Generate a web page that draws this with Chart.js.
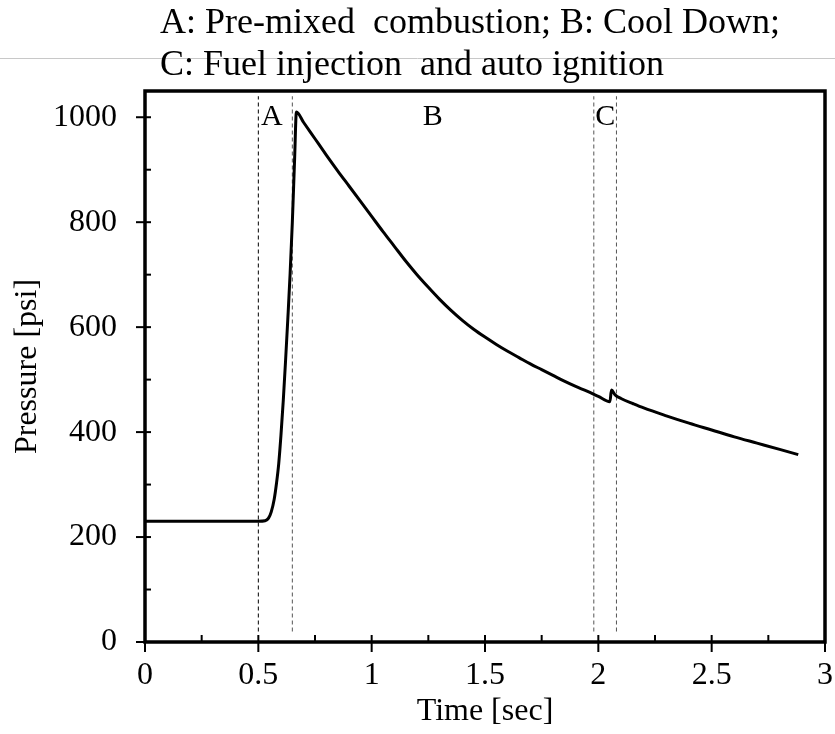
<!DOCTYPE html>
<html>
<head>
<meta charset="utf-8">
<script src="https://cdn.jsdelivr.net/npm/chart.js@4.4.1/dist/chart.umd.min.js"></script>
<style>
  html, body { margin: 0; background: #fff; }
  #wrap { width: 835px; height: 734px; position: relative; }
</style>
</head>
<body>
<div id="wrap"><canvas id="pressureChart"></canvas></div>
<script>
// Pressure trace
const timeSec = [0, 0.1, 0.2, 0.3, 0.4, 0.5, 0.53, 0.545, 0.557, 0.57, 0.58, 0.59, 0.60, 0.61, 0.62,
  0.63, 0.64, 0.65, 0.66, 0.668, 0.70, 0.75, 0.80, 0.85, 0.90, 0.95, 1.00, 1.05, 1.10, 1.15,
  1.20, 1.25, 1.30, 1.35, 1.40, 1.45, 1.50, 1.55, 1.60, 1.65, 1.70, 1.75, 1.80, 1.85, 1.90,
  1.95, 2.00, 2.051, 2.058, 2.074, 2.10, 2.154, 2.20, 2.30, 2.40, 2.50, 2.60, 2.70, 2.80, 2.882];
const pressurePsi = [230, 230, 230, 230, 230, 230, 231, 236, 248, 272, 302, 340, 395, 460, 535,
  615, 700, 800, 920, 1010, 990, 959, 928, 898, 869, 840, 811, 782, 754, 726,
  700, 676, 653, 632, 613, 596, 581, 567, 554, 542, 530, 519, 508, 497, 487,
  478, 468, 458, 480, 471, 464, 454, 446, 431, 417, 404, 391, 379, 367, 357];

// Phase boundaries (dashed lines) and phase labels
const phaseBounds = [0.5, 0.65, 1.98, 2.08];
const phaseColors = ['#000', '#555', '#555', '#555'];
const phaseNames = ['A', 'B', 'C'];
const phaseLabelTime = [0.56, 1.27, 2.03];
const phaseLabelPsi = 1000;
const dashBottomPsi = 20;
const dashTopPsi = 1040;

const titleLines = ['A: Pre-mixed  combustion; B: Cool Down;', 'C: Fuel injection  and auto ignition'];

const xTicks = [0, 0.25, 0.5, 0.75, 1, 1.25, 1.5, 1.75, 2, 2.25, 2.5, 2.75, 3];
const yTicks = [0, 100, 200, 300, 400, 500, 600, 700, 800, 900, 1000];

const serif = 'Liberation Serif';

const frame = {
    id: 'frame',
    beforeDraw(chart) {
        const ctx = chart.ctx;
        ctx.save();
        ctx.strokeStyle = '#c8c8c8';
        ctx.lineWidth = 1;
        ctx.beginPath();
        ctx.moveTo(0, 58.5);
        ctx.lineTo(chart.width, 58.5);
        ctx.stroke();
        ctx.restore();
    },
    afterDraw(chart) {
        const { ctx, chartArea: a, scales: { x, y } } = chart;
        ctx.save();
        ctx.strokeStyle = '#000';
        ctx.lineWidth = 3.5;
        ctx.strokeRect(a.left, a.top, a.right - a.left, a.bottom - a.top);

        // ticks: major ones cross the axis, minor ones point inward
        ctx.lineWidth = 2;
        yTicks.forEach(v => {
            const py = y.getPixelForValue(v);
            const major = v % 200 === 0;
            ctx.beginPath();
            ctx.moveTo(a.left - (major ? 9 : 0), py);
            ctx.lineTo(a.left + 6, py);
            ctx.stroke();
        });
        xTicks.forEach(v => {
            const px = x.getPixelForValue(v);
            const major = Math.round(v * 4) % 2 === 0;
            ctx.beginPath();
            ctx.moveTo(px, a.bottom + (major ? 10 : 0));
            ctx.lineTo(px, a.bottom - 7);
            ctx.stroke();
        });

        // phase letters
        ctx.fillStyle = '#000';
        ctx.font = '30px "' + serif + '"';
        ctx.textAlign = 'center';
        ctx.textBaseline = 'middle';
        phaseNames.forEach((n, i) => {
            ctx.fillText(n, x.getPixelForValue(phaseLabelTime[i]), y.getPixelForValue(phaseLabelPsi));
        });

        // two-line heading
        ctx.font = '36px "' + serif + '"';
        ctx.textAlign = 'left';
        ctx.textBaseline = 'alphabetic';
        ctx.fillText(titleLines[0], 160, 33);
        ctx.fillText(titleLines[1], 160, 75);
        ctx.restore();
    }
};

const datasets = [{
    data: timeSec.map((t, i) => ({ x: t, y: pressurePsi[i] })),
    borderColor: '#000',
    borderWidth: 3,
    pointRadius: 0,
    cubicInterpolationMode: 'monotone',
    fill: false
}];
phaseBounds.forEach((b, i) => {
    datasets.push({
        data: [{ x: b, y: dashBottomPsi }, { x: b, y: dashTopPsi }],
        borderColor: phaseColors[i],
        borderWidth: 1,
        borderDash: [4, 3],
        pointRadius: 0,
        fill: false
    });
});

const tickFont = { family: serif, size: 32 };

new Chart(document.getElementById('pressureChart'), {
    type: 'line',
    data: { datasets: datasets },
    options: {
        responsive: true,
        maintainAspectRatio: false,
        animation: false,
        layout: { padding: { top: 91, right: 0, bottom: 0, left: 0 } },
        plugins: {
            legend: { display: false },
            tooltip: { enabled: false }
        },
        scales: {
            x: {
                type: 'linear',
                min: 0,
                max: 3,
                afterBuildTicks: s => { s.ticks = xTicks.map(v => ({ value: v })); },
                afterFit: s => { s.height = 92; s.paddingRight = 10; },
                grid: { display: false, drawTicks: false },
                border: { display: false },
                ticks: {
                    autoSkip: false,
                    maxRotation: 0,
                    color: '#000',
                    font: tickFont,
                    padding: 14,
                    callback: v => (Math.round(v * 4) % 2 === 0 ? String(v) : '')
                },
                title: {
                    display: true,
                    text: 'Time [sec]',
                    color: '#000',
                    font: tickFont,
                    padding: { top: 0, bottom: 3 }
                }
            },
            y: {
                min: 0,
                max: 1050,
                afterBuildTicks: s => { s.ticks = yTicks.map(v => ({ value: v })); },
                afterFit: s => { s.width = 145; },
                grid: { display: false, drawTicks: false },
                border: { display: false },
                ticks: {
                    autoSkip: false,
                    color: '#000',
                    font: tickFont,
                    padding: 28,
                    callback: v => (v % 200 === 0 ? String(v) : '')
                },
                title: {
                    display: true,
                    text: 'Pressure [psi]',
                    color: '#000',
                    font: tickFont,
                    padding: { top: 8, bottom: 0 }
                }
            }
        }
    },
    plugins: [frame]
});
</script>
</body>
</html>
